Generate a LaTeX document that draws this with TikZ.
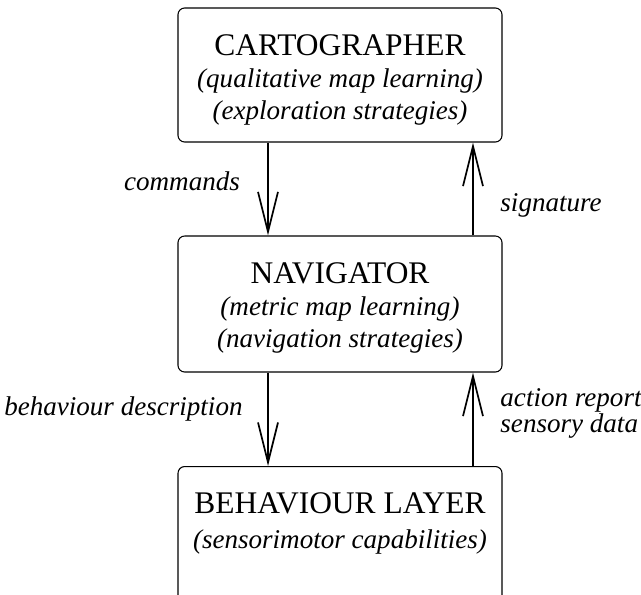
\documentclass[tikz,border=0pt]{standalone}
\usepackage{fontspec}
\setmainfont{Liberation Serif}
\usetikzlibrary{arrows.meta, positioning}

\begin{document}
\begin{tikzpicture}[
    x=0.75pt, y=-0.75pt,
    >={Straight Barb[length=30pt, width=15pt, line width=1.3pt]},
    every node/.style={font=\fontsize{20.3}{24}\selectfont\itshape},
    layer/.style={draw, line width=0.8pt, rounded corners=5pt, minimum width=243pt, inner sep=0pt},
    layertext/.style={align=center, inner sep=0pt, anchor=north},
    title/.style={font=\fontsize{23.6}{24}\selectfont\upshape},
    flow/.style={->, line width=1.5pt},
]
\useasboundingbox (0,0) rectangle (641,594);
\clip (0,0) rectangle (641,594);
% the three layers, top to bottom
\node[layer, minimum height=100.5pt] (cart) at (340,75) {};
\node[layer, minimum height=102pt] (nav) at (340,304) {};
\node[layer, minimum height=120pt, anchor=north] (beh) at (340,466) {};
\node[layertext] (carttext) at (340,34)
   {{\fontsize{23.6}{24}\selectfont\upshape CARTOGRAPHER}\\ (qualitative map learning)\\ (exploration strategies)};
\node[layertext] (navtext) at (340,262)
   {{\fontsize{23.6}{24}\selectfont\upshape NAVIGATOR}\\ (metric map learning)\\ (navigation strategies)};
\node[layertext] (behtext) at (340,492)
   {{\fontsize{23.6}{24}\selectfont\upshape BEHAVIOUR LAYER}\\[2.5pt] (sensorimotor capabilities)};
% downward: commands, upward: reports
\draw[flow] ([xshift=-54pt]cart.south) -- ([xshift=-54pt]nav.north)
   node[midway, anchor=base east, xshift=-17pt, yshift=-1pt] (cmd) {commands};
\draw[flow] ([xshift=99.75pt]nav.north) -- ([xshift=99.75pt]cart.south)
   node[midway, anchor=base west, xshift=16.5pt, yshift=-17pt] (sig) {signature};
\draw[flow] ([xshift=-54pt]nav.south) -- ([xshift=-54pt]beh.north)
   node[midway, anchor=base east, xshift=-15pt, yshift=3pt] (bdesc) {behaviour description};
\draw[flow] ([xshift=99.75pt]beh.north) -- ([xshift=99.75pt]nav.south)
   node[midway, anchor=west, align=left, xshift=16.5pt, yshift=4.5pt,
        font=\fontsize{20.3}{16.5}\selectfont\itshape] (arep) {action report\\ sensory data};
\end{tikzpicture}
\end{document}
